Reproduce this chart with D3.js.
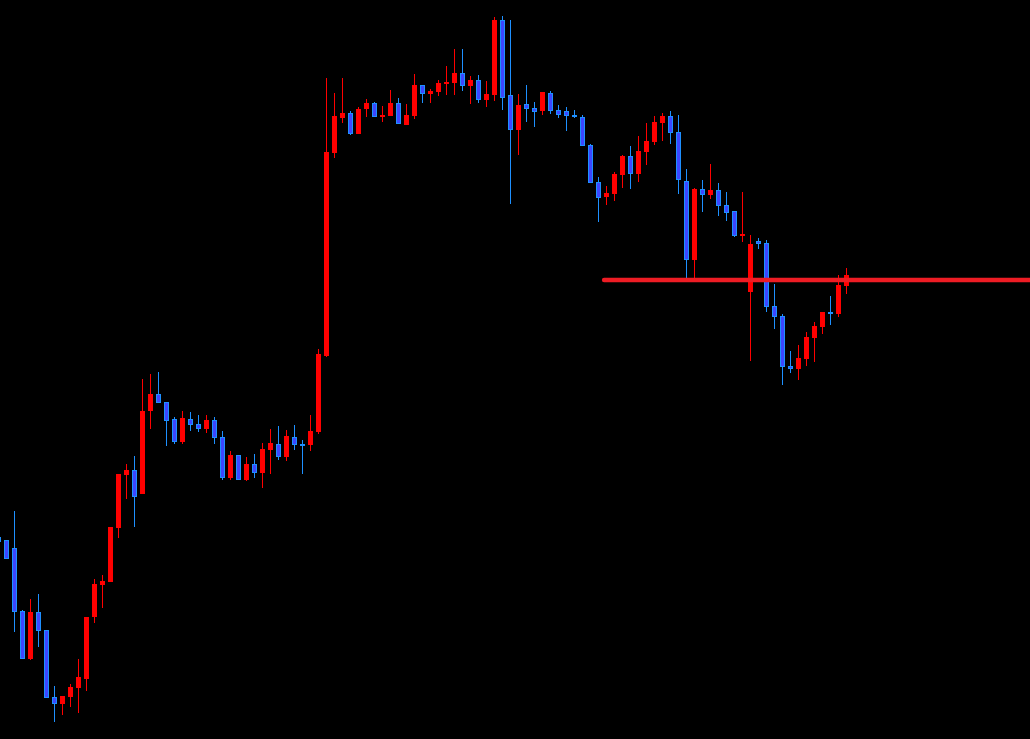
<!DOCTYPE html>
<html>
<head>
<meta charset="utf-8">
<script src="https://cdn.jsdelivr.net/npm/d3@7/dist/d3.min.js"></script>
<style>
  html, body { margin: 0; padding: 0; background: #000; overflow: hidden; }
  svg { display: block; }
</style>
</head>
<body>
<svg id="chart" width="1030" height="739"></svg>
<script>
// Bar index (categories)
const bars = d3.range(-1, 106);
// OHLC series
const open  = [463,460,452,389,341,388,370,303,296,303,312,321,383,415,418,472,525,530,506,589,606,598,581,558,581,576,571,580,563,522,545,520,536,527,550,556,543,563,556,555,568,644,847,882,887,866,891,897,884,884,897,875,884,915,906,908,916,917,927,914,920,900,905,980,905,870,896,892,889,907,890,889,885,883,855,818,803,806,825,844,826,848,858,877,884,868,819,740,811,805,810,795,789,764,708,759,757,694,684,634,631,641,662,673,688,686,714];
const high  = [465,460,489,390,401,406,370,314,304,316,341,383,421,425,473,526,536,544,621,626,628,598,583,589,588,585,585,583,569,549,545,543,546,557,571,574,570,575,560,585,651,922,907,922,889,893,901,898,894,910,902,896,926,915,911,920,934,951,951,924,925,919,983,984,980,906,915,898,908,909,895,893,890,885,856,823,814,828,845,854,864,877,884,887,889,885,831,812,820,836,817,808,789,808,765,762,760,716,686,649,655,668,678,688,704,725,732];
const low   = [455,441,368,341,340,353,302,278,285,293,287,309,377,392,418,462,501,473,506,571,597,554,556,556,569,568,567,556,520,520,520,519,522,512,526,540,539,550,526,549,566,643,842,877,865,866,883,883,878,884,876,875,881,897,897,904,905,905,909,896,897,893,899,890,796,845,878,873,885,886,882,869,882,854,817,778,795,799,812,811,818,835,855,859,856,806,722,721,788,801,784,779,763,758,639,751,688,671,615,627,620,634,638,666,675,683,706];
const close = [458,441,388,341,388,369,302,296,304,313,323,383,416,419,473,526,530,503,589,606,597,579,558,582,575,571,580,562,522,545,520,536,527,551,557,543,564,555,554,569,646,848,884,887,866,891,897,883,885,897,876,885,915,906,909,917,918,927,914,920,900,906,980,902,870,895,891,888,908,889,885,884,883,854,817,802,807,826,844,826,849,859,878,884,867,820,740,811,805,810,794,787,764,766,756,756,693,683,633,631,642,663,674,688,686,715,725];
// Horizontal level
const levelPrice = 720;
const levelStartBar = 74.7;

const W = 1030, H = 739;
const svg = d3.select("#chart");
svg.append("rect").attr("width", W).attr("height", H).attr("fill", "#000");

const x = d3.scaleLinear().domain([-1, 105]).range([-1.5, 846.5]);
const y = d3.scaleLinear().domain([261, 1000]).range([H, 0]);

const data = bars.map((b, i) => ({ b, o: open[i], h: high[i], l: low[i], c: close[i] }));

const UP = "#ff0000";
const DOWN_STROKE = "#1e90ff";
const DOWN_FILL = "#3c46ff";
const bodyW = 5;

const g = svg.append("g");

// wicks
g.selectAll("rect.wick").data(data).join("rect")
  .attr("class", "wick")
  .attr("x", d => Math.round(x(d.b) - 0.5))
  .attr("width", 1)
  .attr("y", d => Math.round(y(d.h)))
  .attr("height", d => Math.max(1, Math.round(y(d.l)) - Math.round(y(d.h))))
  .attr("fill", d => d.c >= d.o ? UP : DOWN_STROKE);

// bodies
const up = data.filter(d => d.c >= d.o);
const down = data.filter(d => d.c < d.o);

g.selectAll("rect.up").data(up).join("rect")
  .attr("class", "up")
  .attr("x", d => Math.round(x(d.b) - bodyW / 2))
  .attr("width", bodyW)
  .attr("y", d => Math.round(y(d.c)))
  .attr("height", d => Math.max(2, Math.round(y(d.o)) - Math.round(y(d.c))))
  .attr("fill", UP);

g.selectAll("rect.down").data(down).join("rect")
  .attr("class", "down")
  .attr("x", d => Math.round(x(d.b) - bodyW / 2) + 0.5)
  .attr("width", bodyW - 1)
  .attr("y", d => Math.round(y(d.o)) + 0.5)
  .attr("height", d => Math.max(1, Math.round(y(d.c)) - Math.round(y(d.o)) - 1))
  .attr("fill", DOWN_FILL)
  .attr("stroke", DOWN_STROKE)
  .attr("stroke-width", 1);

// horizontal level line
svg.append("line")
  .attr("x1", x(levelStartBar)).attr("x2", W + 5)
  .attr("y1", y(levelPrice)).attr("y2", y(levelPrice))
  .attr("stroke", "#ee1c24")
  .attr("stroke-width", 4.5)
  .attr("stroke-linecap", "round");
</script>
</body>
</html>
